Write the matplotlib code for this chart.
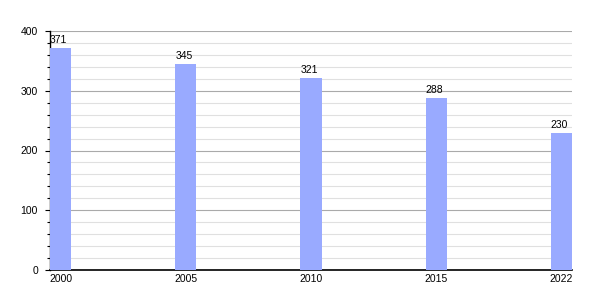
import matplotlib
matplotlib.use("Agg")
import matplotlib.pyplot as plt
from matplotlib.ticker import MultipleLocator

plt.rcParams["font.family"] = ["Liberation Sans", "DejaVu Sans"]

years = ["2000", "2005", "2010", "2015", "2022"]
values = [371, 345, 321, 288, 230]

fig = plt.figure(figsize=(6, 3), dpi=100)
ax = fig.add_axes([50 / 600, 30 / 300, 522 / 600, 239 / 300])

pos = list(range(len(years)))
w = 0.168
ax.bar(pos, values, width=w, color="#99aaff", zorder=3)

for p, v in zip(pos, values):
    ax.text(p - 0.015, v + 5, str(v), ha="center", va="bottom", fontsize=7.5)

ax.set_xlim(-w / 2, len(years) - 1 + w / 2)
ax.set_ylim(0, 400)
ax.set_xticks(pos)
ax.set_xticklabels(years, fontsize=7.5)
ax.tick_params(axis="x", length=0, pad=3)

ax.yaxis.set_major_locator(MultipleLocator(100))
ax.yaxis.set_minor_locator(MultipleLocator(20))
ax.tick_params(axis="y", which="major", length=3.6, width=0.8, labelsize=7.5, pad=5)
ax.tick_params(axis="y", which="minor", length=2.2, width=0.8)
ax.grid(axis="y", which="major", color="#aaaaaa", linewidth=0.8, zorder=0)
ax.grid(axis="y", which="minor", color="#e0e0e0", linewidth=0.8, zorder=0)

for s in ["top", "right"]:
    ax.spines[s].set_visible(False)
ax.spines["left"].set_linewidth(1)
ax.spines["bottom"].set_linewidth(1.2)

fig.savefig("out.png", dpi=100)
